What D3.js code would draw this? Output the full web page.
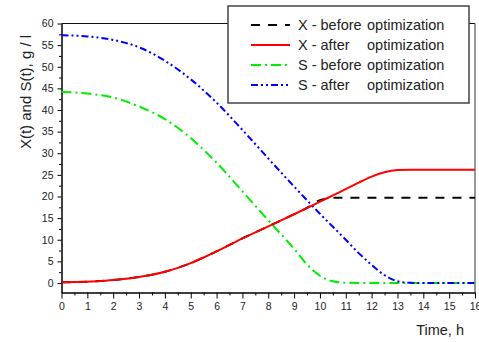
<!DOCTYPE html>
<html>
<head>
<meta charset="utf-8">
<script src="https://cdn.jsdelivr.net/npm/d3@7"></script>
<style>
  body { margin: 0; background: #fff; }
  svg text { font-family: "Liberation Sans", Arial, sans-serif; fill: #222; }
</style>
</head>
<body>
<div id="chart"></div>
<script>
// time points, h
const tRed   = [0, 0.5, 1, 1.5, 2, 2.5, 3, 3.5, 4, 4.5, 5, 5.5, 6, 6.5, 7, 8, 9, 10, 11, 11.5, 12, 12.5, 13, 13.5, 14, 15, 16];
const xAfter = [0.15, 0.2, 0.3, 0.45, 0.7, 1.0, 1.4, 1.9, 2.6, 3.5, 4.6, 5.9, 7.3, 8.8, 10.3, 13.1, 15.9, 18.8, 21.7, 23.2, 24.6, 25.6, 26.1, 26.2, 26.2, 26.2, 26.2];

const tBlack  = [0, 0.5, 1, 1.5, 2, 2.5, 3, 3.5, 4, 4.5, 5, 5.5, 6, 6.5, 7, 8, 9, 9.6, 9.9, 10.2, 10.5, 11, 12, 13, 14, 15, 16];
const xBefore = [0.15, 0.2, 0.3, 0.45, 0.7, 1.0, 1.4, 1.9, 2.6, 3.5, 4.6, 5.9, 7.3, 8.8, 10.3, 13.1, 15.9, 17.7, 18.9, 19.5, 19.7, 19.7, 19.7, 19.7, 19.7, 19.7, 19.7];

const tGreen  = [0, 1, 2, 3, 4, 5, 6, 7, 8, 9, 9.5, 10, 10.5, 11, 11.5, 12, 13, 14, 15, 16];
const sBefore = [44.2, 43.8, 42.9, 40.8, 37.9, 33.5, 27.8, 21.2, 14.5, 7.9, 4.3, 1.7, 0.4, 0.05, 0, 0, 0, 0, 0, 0];

const tBlue  = [0, 1, 2, 3, 4, 5, 6, 7, 8, 9, 10, 11, 11.5, 12, 12.5, 13, 13.5, 14, 15, 16];
const sAfter = [57.3, 57.0, 56.2, 54.5, 51.4, 47.1, 41.7, 35.4, 28.8, 22.3, 16.0, 10.0, 6.9, 4.2, 1.8, 0.4, 0.05, 0, 0, 0];

const xTicks = d3.range(0, 17, 1);
const yTicks = d3.range(0, 61, 5);
const legendNames = ["X - before", "X - after", "S - before", "S - after"];

const width = 479, height = 342;
const plotLeft = 61.5, plotRight = 475, plotTop = 23.5, plotBottom = 292.5;

const svg = d3.select("#chart").append("svg")
    .attr("width", width)
    .attr("height", height);

const x = d3.scaleLinear().domain([0, 16]).range([plotLeft, plotRight]);
const y = d3.scaleLinear().domain([-2.2, 60]).range([plotBottom, plotTop]);

// frame top/right
svg.append("line").attr("x1", plotLeft).attr("x2", plotRight).attr("y1", plotTop).attr("y2", plotTop)
    .attr("stroke", "#111").attr("stroke-width", 1.2);
svg.append("line").attr("x1", plotRight).attr("x2", plotRight).attr("y1", plotTop).attr("y2", plotBottom)
    .attr("stroke", "#555").attr("stroke-width", 1.2);

// X axis
svg.append("g")
    .attr("transform", `translate(0, ${plotBottom})`)
    .call(d3.axisBottom(x).tickValues(d3.range(0.5, 16, 1)).tickSize(3).tickFormat(""))
    .call(g => g.select(".domain").remove());
svg.append("g")
    .attr("transform", `translate(0, ${plotBottom})`)
    .call(d3.axisBottom(x).tickValues(xTicks).tickSize(6).tickSizeOuter(0).tickPadding(4).tickFormat(d3.format("d")))
    .call(g => g.select(".domain").attr("stroke-width", 1.5))
    .selectAll("text")
        .style("font-size", "10.5px");

// Y axis
svg.append("g")
    .attr("transform", `translate(${plotLeft}, 0)`)
    .call(d3.axisLeft(y).tickValues(d3.range(2.5, 60, 5)).tickSize(2.5).tickFormat(""))
    .call(g => g.select(".domain").remove());
svg.append("g")
    .attr("transform", `translate(${plotLeft}, 0)`)
    .call(d3.axisLeft(y).tickValues(yTicks).tickSize(4).tickSizeOuter(0).tickPadding(4).tickFormat(d3.format("d")))
    .call(g => g.select(".domain").attr("stroke-width", 1.5))
    .selectAll("text")
        .style("font-size", "10.5px");

// axis titles
svg.append("text")
    .attr("transform", "translate(31, 92) rotate(-90)")
    .attr("text-anchor", "middle")
    .style("font-size", "15px")
    .text("X(t) and S(t), g / l");
svg.append("text")
    .attr("x", 464).attr("y", 335)
    .attr("text-anchor", "end")
    .style("font-size", "14.5px")
    .text("Time, h");

// series
const series = [
    { t: tBlack, v: xBefore, color: "#000000", dash: "9,8" },
    { t: tGreen, v: sBefore, color: "#00ee00", dash: "10,4,2,4" },
    { t: tBlue,  v: sAfter,  color: "#0000ff", dash: "7,3,2,3,2,3" },
    { t: tRed,   v: xAfter,  color: "#ff0000", dash: null }
];

const line = d3.line()
    .x(d => x(d[0]))
    .y(d => y(d[1]))
    .curve(d3.curveMonotoneX);

series.forEach(s => {
    svg.append("path")
        .datum(s.t.map((t, i) => [t, s.v[i]]))
        .attr("fill", "none")
        .attr("stroke", s.color)
        .attr("stroke-width", 2)
        .attr("stroke-dasharray", s.dash)
        .attr("d", line);
});

// legend
const legend = svg.append("g");
legend.append("rect")
    .attr("x", 228).attr("y", 6)
    .attr("width", 241).attr("height", 97)
    .attr("fill", "#fff")
    .attr("stroke", "#444")
    .attr("stroke-width", 1.5);

const legendSeries = [series[0], series[3], series[1], series[2]];
legendNames.forEach((name, i) => {
    const s = legendSeries[i];
    const ly = 25 + i * 20;
    legend.append("line")
        .attr("x1", 251).attr("x2", 290)
        .attr("y1", ly).attr("y2", ly)
        .attr("stroke", s.color)
        .attr("stroke-width", 2)
        .attr("stroke-dasharray", s.dash);
    legend.append("text")
        .attr("x", 298).attr("y", ly + 5)
        .style("font-size", "14.5px")
        .text(name);
    legend.append("text")
        .attr("x", 367).attr("y", ly + 5)
        .style("font-size", "14.5px")
        .text("optimization");
});
</script>
</body>
</html>
